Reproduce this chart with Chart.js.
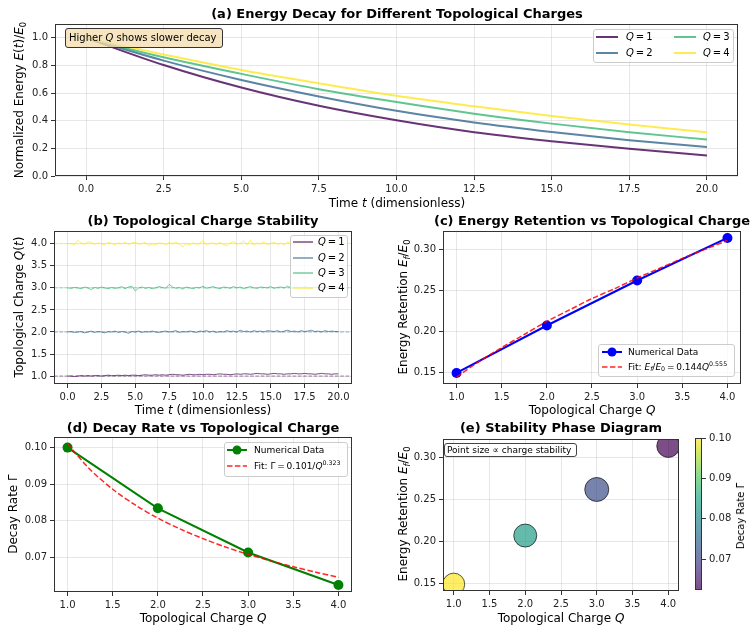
<!DOCTYPE html>
<html>
<head>
<meta charset="utf-8">
<title>Topological charge energy decay</title>
<script src="https://cdn.jsdelivr.net/npm/chart.js@4.4.1/dist/chart.umd.min.js"></script>
<style>
  body { margin: 0; width: 750px; height: 631px; position: relative; overflow: hidden; background: #fff; font-family: "DejaVu Sans", sans-serif; color: #000; }
  #charts { position: absolute; left: 0; top: 0; width: 750px; height: 631px; }
  #charts canvas { position: absolute; }
  .txt { position: absolute; white-space: nowrap; transform: translate(-50%, -50%); line-height: 1; }
  .title { font-size: 13px; font-weight: bold; }
  .lab { font-size: 12px; }
  .rot { transform: translate(-50%, -50%) rotate(-90deg); }
  .box { position: absolute; box-sizing: border-box; border-radius: 3px; white-space: nowrap; }
  .leg { background: rgba(255,255,255,0.8); border: 1px solid #ccc; }
  .lt { position: absolute; white-space: nowrap; transform: translateY(-50%); line-height: 1; }
  sub { font-size: 70%; vertical-align: -0.3em; line-height: 0; }
  sup { font-size: 70%; vertical-align: 0.55em; line-height: 0; }
</style>
</head>
<body>
<div id="charts"></div>

<!-- titles -->
<div class="txt title" style="left:397px;top:13px">(a) Energy Decay for Different Topological Charges</div>
<div class="txt title" style="left:203px;top:220px">(b) Topological Charge Stability</div>
<div class="txt title" style="left:592px;top:220px">(c) Energy Retention vs Topological Charge</div>
<div class="txt title" style="left:203px;top:427px">(d) Decay Rate vs Topological Charge</div>
<div class="txt title" style="left:561px;top:427px">(e) Stability Phase Diagram</div>

<!-- axis labels -->
<div class="txt lab" style="left:397px;top:203px">Time <i>t</i> (dimensionless)</div>
<div class="txt lab rot" style="left:19px;top:100px">Normalized Energy <i>E</i>(<i>t</i>)/<i>E</i><sub>0</sub></div>
<div class="txt lab" style="left:203px;top:410px">Time <i>t</i> (dimensionless)</div>
<div class="txt lab rot" style="left:19px;top:307px">Topological Charge <i>Q</i>(<i>t</i>)</div>
<div class="txt lab" style="left:592px;top:410px">Topological Charge <i>Q</i></div>
<div class="txt lab rot" style="left:403px;top:307px">Energy Retention <i>E<sub>f</sub></i>/<i>E</i><sub>0</sub></div>
<div class="txt lab" style="left:203px;top:618px">Topological Charge <i>Q</i></div>
<div class="txt lab rot" style="left:13px;top:514px">Decay Rate Γ</div>
<div class="txt lab" style="left:561px;top:618px">Topological Charge <i>Q</i></div>
<div class="txt lab rot" style="left:403px;top:514px">Energy Retention <i>E<sub>f</sub></i>/<i>E</i><sub>0</sub></div>
<div class="txt rot" style="left:741px;top:516px;font-size:10px">Decay Rate Γ</div>

<!-- annotations -->
<div class="box" style="left:65px;top:28px;width:158px;height:20px;background:rgba(245,222,179,0.8);border:1px solid #333;font-size:10px;line-height:18px;padding-left:3px">Higher <i>Q</i> shows slower decay</div>
<div class="box" style="left:444px;top:443px;width:133px;height:14px;background:rgba(255,255,255,0.9);border:1px solid #444;font-size:9px;line-height:12px;padding-left:2px">Point size ∝ charge stability</div>

<!-- legends -->
<div class="box leg" style="left:593px;top:29px;width:141px;height:34px"></div>
<div class="lt" style="left:626px;top:37px;font-size:10px"><i>Q</i>&thinsp;=&thinsp;1</div>
<div class="lt" style="left:626px;top:53px;font-size:10px"><i>Q</i>&thinsp;=&thinsp;2</div>
<div class="lt" style="left:703px;top:37px;font-size:10px"><i>Q</i>&thinsp;=&thinsp;3</div>
<div class="lt" style="left:703px;top:53px;font-size:10px"><i>Q</i>&thinsp;=&thinsp;4</div>

<div class="box leg" style="left:290px;top:235px;width:58px;height:63px"></div>
<div class="lt" style="left:318px;top:242px;font-size:10px"><i>Q</i>&thinsp;=&thinsp;1</div>
<div class="lt" style="left:318px;top:258px;font-size:10px"><i>Q</i>&thinsp;=&thinsp;2</div>
<div class="lt" style="left:318px;top:273px;font-size:10px"><i>Q</i>&thinsp;=&thinsp;3</div>
<div class="lt" style="left:318px;top:288px;font-size:10px"><i>Q</i>&thinsp;=&thinsp;4</div>

<div class="box leg" style="left:598px;top:344px;width:137px;height:33px"></div>
<div class="lt" style="left:628px;top:352px;font-size:9px">Numerical Data</div>
<div class="lt" style="left:628px;top:367px;font-size:9px">Fit: <i>E<sub>f</sub></i>/<i>E</i><sub>0</sub>&thinsp;=&thinsp;0.144<i>Q</i><sup>0.555</sup></div>

<div class="box leg" style="left:224px;top:442px;width:124px;height:35px"></div>
<div class="lt" style="left:254px;top:450px;font-size:9px">Numerical Data</div>
<div class="lt" style="left:254px;top:466px;font-size:9px">Fit: Γ&thinsp;=&thinsp;0.101/<i>Q</i><sup>0.323</sup></div>

<script>
// ---- values ----
const charges = [1, 2, 3, 4];

// (a) normalized energy E(t)/E0
const tA = [0, 2.5, 5, 7.5, 10, 12.5, 15, 17.5, 20];
const energyQ1 = [1.0, 0.803, 0.640, 0.508, 0.403, 0.317, 0.252, 0.197, 0.149];
const energyQ2 = [1.0, 0.835, 0.695, 0.576, 0.472, 0.388, 0.319, 0.259, 0.209];
const energyQ3 = [1.0, 0.859, 0.739, 0.628, 0.535, 0.451, 0.379, 0.317, 0.264];
const energyQ4 = [1.0, 0.880, 0.767, 0.671, 0.580, 0.504, 0.434, 0.372, 0.317];

// (b) measured charge Q(t), sampled every 0.25
const chargeQ1 = [1.00,1.00,0.99,1.00,1.01,1.00,1.01,1.00,1.01,1.01,
  1.00,1.01,1.02,1.01,1.01,1.02,1.01,1.02,1.01,1.02,
  1.02,1.01,1.02,1.03,1.02,1.02,1.03,1.02,1.03,1.02,
  1.03,1.04,1.03,1.03,1.02,1.03,1.04,1.03,1.03,1.04,
  1.03,1.04,1.04,1.03,1.04,1.05,1.04,1.04,1.03,1.04,
  1.05,1.04,1.05,1.05,1.04,1.05,1.06,1.05,1.05,1.04,
  1.05,1.06,1.05,1.05,1.04,1.05,1.05,1.06,1.05,1.05,
  1.06,1.05,1.05,1.04,1.05,1.06,1.05,1.05,1.04,1.05,1.05];
const chargeQ2 = [2.00,2.01,1.99,2.00,2.01,1.98,2.00,2.02,1.99,2.01,
  2.00,1.98,2.01,2.00,2.02,1.99,2.01,2.00,1.97,2.01,
  2.00,2.02,1.99,2.01,2.00,2.02,2.00,1.99,2.01,2.02,
  2.00,2.01,2.03,1.99,2.01,2.00,2.02,2.01,1.99,2.02,
  2.01,2.03,2.00,2.02,1.99,2.01,2.00,2.03,2.01,2.02,
  2.00,2.04,2.01,2.02,2.00,2.03,2.01,2.02,2.00,2.03,
  2.02,2.01,2.03,2.00,2.02,2.04,2.01,2.02,2.00,2.03,
  2.01,2.02,2.04,2.01,2.02,2.00,2.03,2.01,2.02,2.01,2.01];
const chargeQ3 = [3.00,2.99,3.01,3.00,2.98,3.02,3.00,2.96,3.01,2.99,
  3.02,3.00,2.98,3.01,2.99,3.00,3.03,2.98,3.02,3.04,
  2.93,3.00,3.02,2.99,3.01,2.98,3.00,3.03,3.01,2.99,
  3.08,3.02,2.99,3.01,2.97,3.02,3.00,2.98,3.01,3.00,
  3.04,2.99,3.01,3.03,3.00,2.98,3.02,3.01,2.99,3.03,
  3.00,3.02,2.98,3.01,3.03,3.00,2.99,3.02,3.01,3.00,
  3.03,2.99,3.01,3.02,3.00,3.04,2.99,3.01,3.02,3.00,
  3.03,3.01,2.99,3.02,3.00,3.01,3.03,2.99,3.01,3.00,3.01];
const chargeQ4 = [4.00,4.01,3.98,4.08,4.02,3.99,4.05,4.03,3.99,4.02,
  4.00,3.98,4.03,4.01,3.98,4.02,4.00,4.03,3.99,4.02,
  4.04,3.99,4.01,4.03,3.96,4.00,3.98,4.02,4.01,3.98,
  4.03,4.00,4.04,3.99,3.93,4.01,3.97,4.02,3.99,4.01,
  4.07,3.98,4.01,4.02,3.99,4.03,3.98,3.96,4.02,4.05,
  3.99,4.01,4.07,3.98,4.08,3.97,4.02,4.00,4.04,3.98,
  4.01,4.03,3.99,4.02,3.97,4.04,4.00,3.98,4.05,4.01,
  3.97,4.02,4.04,3.99,4.01,3.98,4.03,4.00,4.02,3.99,4.01];

// (c)-(e) summary values per charge
const retention = [0.149, 0.207, 0.262, 0.314];
const decayRate = [0.1000, 0.0834, 0.0713, 0.0624];
const bubbleSize = [11, 11.5, 12, 11.5];

// fitted curves as drawn
const fitQ = [1, 1.25, 1.5, 1.75, 2, 2.25, 2.5, 2.75, 3, 3.25, 3.5, 3.75, 4];
const fitRetention = [0.144, 0.163, 0.180, 0.196, 0.212, 0.226, 0.240, 0.252, 0.265, 0.277, 0.289, 0.300, 0.311];
const fitDecay = [0.1010, 0.0940, 0.0886, 0.0843, 0.0807, 0.0777, 0.0751, 0.0728, 0.0708, 0.0690, 0.0674, 0.0659, 0.0645];

// tick labels
const timeTicks = [0, 2.5, 5, 7.5, 10, 12.5, 15, 17.5, 20];
const energyTicks = [0, 0.2, 0.4, 0.6, 0.8, 1.0];
const chargeLevelTicks = [1, 1.5, 2, 2.5, 3, 3.5, 4];
const qTicks = [1, 1.5, 2, 2.5, 3, 3.5, 4];
const retentionTicks = [0.15, 0.20, 0.25, 0.30];
const rateTicks = [0.07, 0.08, 0.09, 0.10];

// ---- styling helpers ----
const VIRIDIS = ['#440154', '#482475', '#414487', '#355f8d', '#2a788e', '#21918c',
                 '#22a884', '#44bf70', '#7ad151', '#bddf26', '#fde725'];

function viridis(t, a) {
    t = Math.max(0, Math.min(1, t));
    const p = t * 10, i = Math.min(9, Math.floor(p)), f = p - i;
    const c0 = VIRIDIS[i], c1 = VIRIDIS[i + 1];
    const ch = (c, k) => parseInt(c.slice(1 + 2 * k, 3 + 2 * k), 16);
    const mix = k => Math.round(ch(c0, k) + (ch(c1, k) - ch(c0, k)) * f);
    return `rgba(${mix(0)},${mix(1)},${mix(2)},${a})`;
}

const qColor = (i, a) => viridis(i / 3, a);

Chart.defaults.font.family = "'DejaVu Sans', sans-serif";
Chart.defaults.font.size = 10;
Chart.defaults.color = '#222';
Chart.defaults.animation = false;
Chart.defaults.plugins.legend.display = false;
Chart.defaults.plugins.tooltip.enabled = false;

const YW = 46, XH = 22, PT = 12, PR = 12;

// matplotlib-like box around the axes
const frame = {
    id: 'frame',
    afterDatasetsDraw(chart) {
        const { ctx, chartArea: a } = chart;
        ctx.save();
        ctx.strokeStyle = '#333';
        ctx.lineWidth = 1;
        ctx.strokeRect(a.left + 0.5, a.top + 0.5, a.right - a.left - 1, a.bottom - a.top - 1);
        ctx.restore();
    }
};

function axis(min, max, ticks, dec, isX) {
    return {
        type: 'linear', min, max,
        afterBuildTicks: s => { s.ticks = ticks.map(v => ({ value: v })); },
        afterFit: s => { if (isX) s.height = XH; else s.width = YW; },
        ticks: { callback: v => Number(v).toFixed(dec), padding: 3, maxRotation: 0, autoSkip: false },
        grid: { color: 'rgba(176,176,176,0.3)', tickColor: '#333', tickLength: 4, lineWidth: 1 },
        border: { display: false }
    };
}

function mk(box, config) {
    const [L, T, R, B] = box;
    const c = document.createElement('canvas');
    const w = R - L + YW + PR, h = B - T + PT + XH;
    c.width = w; c.height = h;
    c.style.left = (L - YW) + 'px';
    c.style.top = (T - PT) + 'px';
    c.style.width = w + 'px';
    c.style.height = h + 'px';
    document.getElementById('charts').appendChild(c);
    config.options.responsive = false;
    config.options.layout = { padding: { top: PT, right: PR, left: 0, bottom: 0 } };
    config.plugins = [frame];
    return new Chart(c, config);
}

function handle(x, y, len, color, lw, dash, marker) {
    const s = document.createElementNS('http://www.w3.org/2000/svg', 'svg');
    s.setAttribute('width', len);
    s.setAttribute('height', 12);
    s.style.cssText = `position:absolute;left:${x}px;top:${y - 6}px;overflow:visible`;
    s.innerHTML = `<line x1="0" y1="6" x2="${len}" y2="6" stroke="${color}" stroke-width="${lw}"` +
        (dash ? ` stroke-dasharray="${dash}"` : '') + '/>' +
        (marker ? `<circle cx="${len / 2}" cy="6" r="${marker}" fill="${color}"/>` : '');
    document.body.appendChild(s);
}

// ---- (a) energy decay ----
const energy = [energyQ1, energyQ2, energyQ3, energyQ4];
mk([55, 24, 738, 176], {
    type: 'line',
    data: {
        datasets: energy.map((arr, i) => ({
            data: tA.map((t, j) => ({ x: t, y: arr[j] })),
            borderColor: qColor(i, 0.8),
            borderWidth: 2,
            pointRadius: 0,
            cubicInterpolationMode: 'monotone',
            order: 4 - i
        }))
    },
    options: { scales: { x: axis(-1, 21, timeTicks, 1, true), y: axis(0, 1.1, energyTicks, 1, false) } }
});

// ---- (b) charge stability ----
const chargeSeries = [chargeQ1, chargeQ2, chargeQ3, chargeQ4];
const tB = chargeQ1.map((_, i) => i * 0.25);
const bSets = [];
chargeSeries.forEach((arr, i) => {
    bSets.push({
        data: arr.map((v, j) => ({ x: tB[j], y: v })),
        borderColor: qColor(i, 0.7), borderWidth: 1, pointRadius: 0, order: 1
    });
    bSets.push({
        data: [{ x: -1, y: charges[i] }, { x: 21, y: charges[i] }],
        borderColor: qColor(i, 0.5), borderWidth: 1, borderDash: [3.7, 1.6], pointRadius: 0, order: 2
    });
});
mk([54, 231, 352, 384], {
    type: 'line',
    data: { datasets: bSets },
    options: { scales: { x: axis(-1, 21, timeTicks, 1, true), y: axis(0.82, 4.29, chargeLevelTicks, 1, false) } }
});

// ---- (c) energy retention ----
mk([443, 231, 741, 384], {
    type: 'line',
    data: {
        datasets: [
            { data: fitQ.map((q, i) => ({ x: q, y: fitRetention[i] })), borderColor: 'rgba(255,0,0,0.85)',
              borderWidth: 1.5, borderDash: [5.5, 2.4], pointRadius: 0, tension: 0.3, order: 0 },
            { data: charges.map((q, i) => ({ x: q, y: retention[i] })), borderColor: '#0000ff', borderWidth: 2,
              pointRadius: 5, pointBackgroundColor: '#0000ff', pointBorderWidth: 0, order: 1 }
        ]
    },
    options: { scales: { x: axis(0.85, 4.15, qTicks, 1, true), y: axis(0.1355, 0.3225, retentionTicks, 2, false) } }
});

// ---- (d) decay rate ----
mk([54, 437, 352, 592], {
    type: 'line',
    data: {
        datasets: [
            { data: fitQ.map((q, i) => ({ x: q, y: fitDecay[i] })), borderColor: 'rgba(255,0,0,0.85)',
              borderWidth: 1.5, borderDash: [5.5, 2.4], pointRadius: 0, tension: 0.3, order: 0 },
            { data: charges.map((q, i) => ({ x: q, y: decayRate[i] })), borderColor: '#008000', borderWidth: 2,
              pointRadius: 5, pointBackgroundColor: '#008000', pointBorderWidth: 0, order: 1 }
        ]
    },
    options: { scales: { x: axis(0.85, 4.15, qTicks, 1, true), y: axis(0.0605, 0.1029, rateTicks, 2, false) } }
});

// ---- (e) phase diagram ----
const rateMin = Math.min(...decayRate), rateMax = Math.max(...decayRate);
const rateNorm = g => (g - rateMin) / (rateMax - rateMin);
mk([443, 438, 680, 591], {
    type: 'scatter',
    data: {
        datasets: [{
            data: charges.map((q, i) => ({ x: q, y: retention[i] })),
            pointRadius: bubbleSize,
            backgroundColor: decayRate.map(g => viridis(rateNorm(g), 0.7)),
            borderColor: 'rgba(0,0,0,0.65)',
            borderWidth: 1,
            clip: 0
        }]
    },
    options: { scales: { x: axis(0.85, 4.15, qTicks, 1, true), y: axis(0.1408, 0.3223, retentionTicks, 2, false) } }
});

// ---- colorbar ----
(function () {
    const L = 695, T = 438, R = 702, B = 591, W = 40;
    const c = document.createElement('canvas');
    const w = R - L + W, h = B - T + PT + 8;
    c.width = w; c.height = h;
    c.style.left = L + 'px'; c.style.top = (T - PT) + 'px';
    c.style.width = w + 'px'; c.style.height = h + 'px';
    document.getElementById('charts').appendChild(c);
    const yAx = axis(rateMin, rateMax, rateTicks, 2, false);
    yAx.position = 'right';
    yAx.afterFit = s => { s.width = W; };
    yAx.grid = { drawOnChartArea: false, tickColor: '#333', tickLength: 4 };
    new Chart(c, {
        type: 'bar',
        data: {
            labels: ['Γ'],
            datasets: [{
                data: [[rateMin, rateMax]],
                barPercentage: 1, categoryPercentage: 1, borderWidth: 0,
                backgroundColor: ctx => {
                    const a = ctx.chart.chartArea;
                    if (!a) return 'transparent';
                    const g = ctx.chart.ctx.createLinearGradient(0, a.bottom, 0, a.top);
                    VIRIDIS.forEach((col, i) => g.addColorStop(i / 10, viridis(i / 10, 0.7)));
                    return g;
                }
            }]
        },
        options: {
            responsive: false,
            layout: { padding: { top: PT, bottom: 8, left: 0, right: 0 } },
            scales: { x: { display: false }, y: yAx }
        },
        plugins: [frame]
    });
})();

// ---- legend handles ----
handle(596, 37, 22, qColor(0, 0.8), 2);
handle(596, 53, 22, qColor(1, 0.8), 2);
handle(674, 37, 22, qColor(2, 0.8), 2);
handle(674, 53, 22, qColor(3, 0.8), 2);
[242, 258, 273, 288].forEach((y, i) => handle(293, y, 20, qColor(i, 0.7), 1.5));
handle(602, 352, 20, '#0000ff', 2, null, 4.5);
handle(602, 367, 20, 'rgba(255,0,0,0.85)', 1.5, '5.5 2.4');
handle(227, 450, 20, '#008000', 2, null, 4.5);
handle(227, 466, 20, 'rgba(255,0,0,0.85)', 1.5, '5.5 2.4');
</script>
</body>
</html>
